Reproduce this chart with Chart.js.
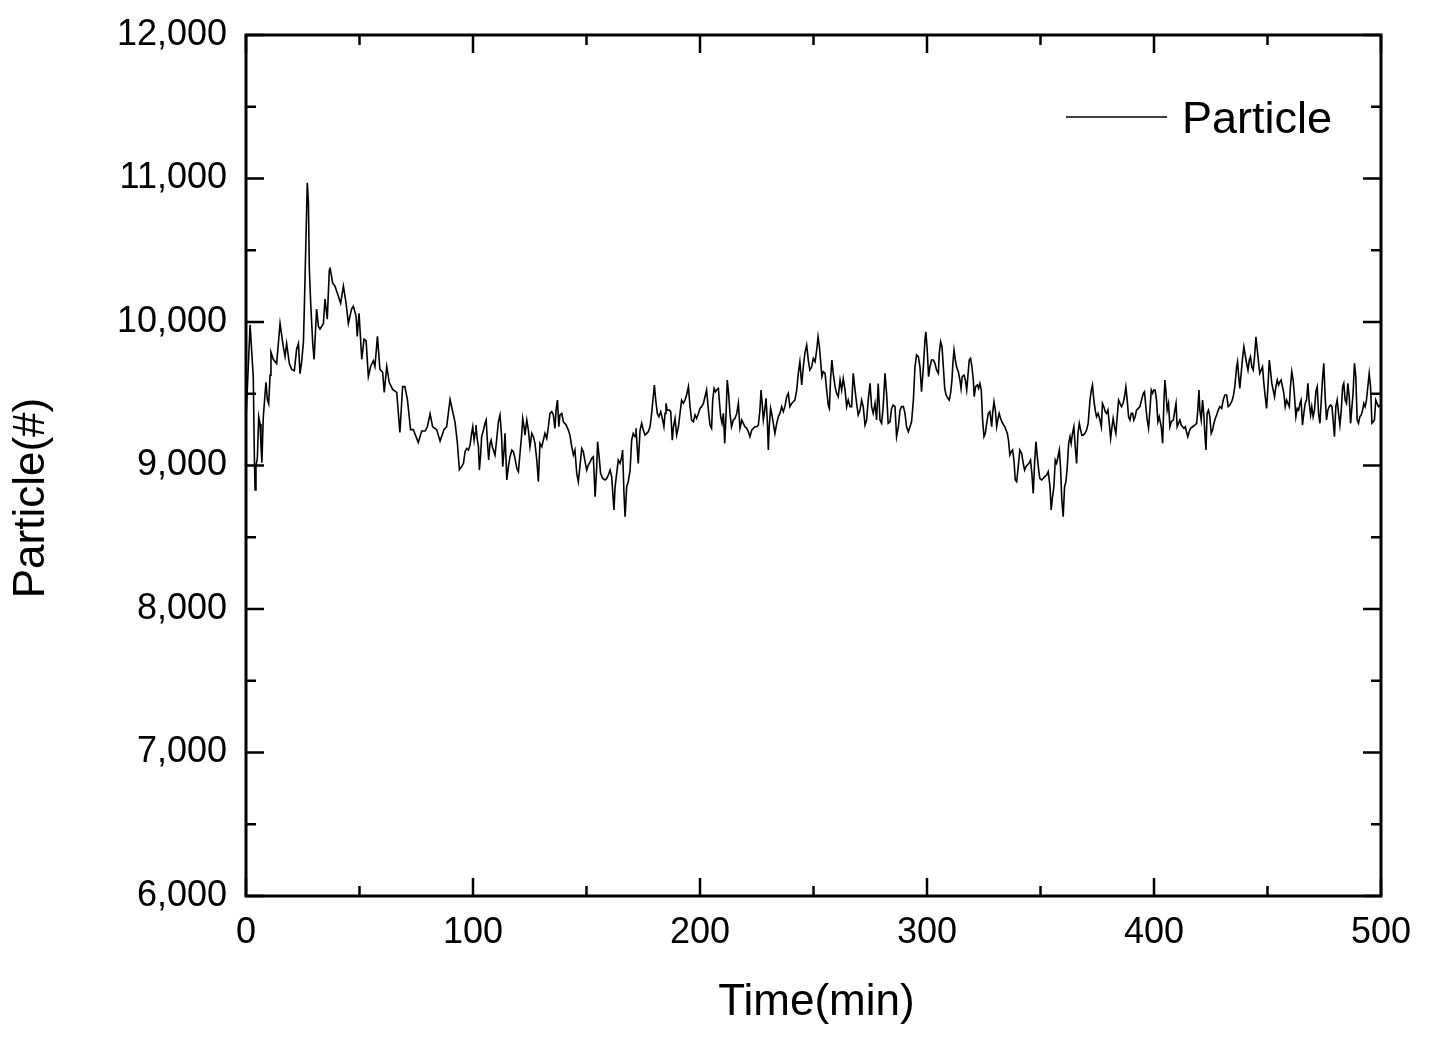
<!DOCTYPE html>
<html>
<head>
<meta charset="utf-8">
<script src="https://cdn.jsdelivr.net/npm/chart.js@4/dist/chart.umd.min.js"></script>
<style>
  html, body { margin: 0; padding: 0; background: #fff; }
  canvas { display: block; }
</style>
</head>
<body>
<canvas id="chart" width="1439" height="1040"></canvas>
<script>
// Particle count over time (min, #)
const timeMin = [
  0, 1.8, 2.5, 3.2, 3.7, 4.0, 4.4, 5.0, 5.6, 6.2,
  6.6, 7.0, 7.6, 8.1, 8.8, 9.4, 10.0, 10.6, 11.0, 12.0,
  13.5, 15.0, 16.4, 17.2, 17.9, 19.1, 20.1, 21.3, 22.3, 23.1,
  23.8, 24.5, 25.3, 25.6, 26.0, 27.0, 27.5, 27.9, 28.5, 29.4,
  30.0, 31.1, 31.9, 32.6, 34.1, 34.8, 35.8, 36.7, 37.0, 38.2,
  39.2, 40.7, 41.7, 42.9, 44.1, 45.1, 46.5, 47.3, 48.5, 49.0,
  49.8, 51.0, 52.0, 52.9, 53.9, 54.9, 56.1, 56.8, 57.9, 59.0,
  60.2, 60.9, 62.0, 63.1, 64.6, 66.4, 67.8, 69.0, 70.0, 71.1,
  72.5, 73.7, 75.9, 77.4, 78.9, 79.9, 81.1, 82.2, 84.0, 85.5,
  87.2, 88.4, 89.9, 92.1, 93.1, 94.0, 95.0, 95.8, 96.5, 97.2,
  98.0, 98.7, 99.4, 99.9, 100.5, 100.9, 101.3, 101.9, 102.4, 102.8,
  103.4, 103.8, 104.6, 105.3, 105.8, 106.3, 106.9, 107.5, 108.0, 108.5,
  109.0, 109.7, 110.4, 111.2, 111.9, 112.6, 113.1, 113.7, 114.1, 114.9,
  115.6, 116.3, 117.1, 117.8, 118.5, 119.3, 120.0, 120.7, 121.5, 121.9,
  122.5, 122.9, 123.7, 124.4, 125.1, 125.9, 126.6, 127.3, 128.1, 128.8,
  129.5, 130.3, 131.0, 131.7, 132.5, 133.2, 133.9, 134.7, 135.4, 136.1,
  136.6, 137.2, 137.8, 138.3, 139.1, 139.8, 141.0, 142.0, 142.7, 143.5,
  144.2, 144.9, 145.7, 146.4, 147.1, 147.9, 148.6, 149.4, 150.1, 150.8,
  151.6, 152.3, 153.0, 153.8, 154.5, 154.9, 155.7, 156.2, 157.1, 158.2,
  158.9, 159.6, 160.4, 161.1, 161.8, 162.1, 162.6, 163.3, 164.0, 164.8,
  165.5, 165.9, 166.5, 167.0, 167.7, 168.4, 169.2, 169.9, 170.6, 171.4,
  171.8, 172.4, 172.8, 173.6, 174.3, 175.0, 175.8, 176.5, 177.2, 178.0,
  178.7, 179.4, 179.9, 180.5, 181.2, 181.9, 182.7, 183.4, 184.1, 184.6,
  185.0, 185.6, 186.5, 187.1, 187.8, 188.3, 189.0, 189.7, 190.5, 191.2,
  191.9, 192.7, 193.4, 194.1, 194.9, 195.6, 196.3, 197.1, 197.8, 198.5,
  199.3, 200.0, 200.7, 201.5, 202.2, 202.9, 203.7, 204.4, 205.1, 205.6,
  206.2, 206.8, 207.3, 208.1, 208.5, 209.1, 209.7, 210.3, 210.9, 211.5,
  212.0, 212.6, 213.2, 213.9, 214.7, 215.4, 216.2, 216.9, 217.6, 218.4,
  219.1, 219.8, 220.6, 221.3, 222.0, 222.8, 223.5, 224.2, 225.0, 225.7,
  226.4, 226.9, 227.5, 227.9, 228.5, 229.1, 229.7, 230.1, 230.5, 231.1,
  231.7, 232.3, 233.0, 233.8, 234.5, 235.2, 236.0, 236.7, 237.4, 238.2,
  238.9, 239.6, 240.4, 241.1, 241.8, 242.6, 243.3, 244.0, 244.8, 245.5,
  246.2, 247.0, 247.7, 248.4, 249.2, 249.9, 250.7, 251.4, 252.0, 252.6,
  253.1, 253.7, 254.3, 255.1, 255.8, 256.5, 257.0, 257.5, 258.1, 258.7,
  259.5, 260.2, 260.9, 261.7, 262.4, 263.1, 263.9, 264.6, 265.3, 266.1,
  266.8, 267.5, 268.3, 269.0, 269.7, 270.5, 271.2, 271.9, 272.7, 273.4,
  274.1, 274.9, 275.6, 276.3, 277.1, 277.8, 278.5, 279.3, 280.0, 280.7,
  281.5, 282.2, 282.9, 283.7, 284.4, 285.1, 285.9, 286.6, 287.4, 288.1,
  288.8, 289.6, 290.3, 291.0, 291.8, 292.5, 293.2, 294.0, 294.7, 295.4,
  296.2, 296.9, 297.6, 298.4, 299.1, 299.5, 300.1, 300.7, 301.3, 302.0,
  302.8, 303.5, 304.2, 305.0, 305.4, 306.0, 306.6, 307.2, 307.8, 308.4,
  309.2, 309.8, 310.4, 311.0, 311.4, 311.9, 312.5, 313.0, 313.8, 314.5,
  315.0, 315.5, 316.3, 316.9, 317.5, 318.0, 318.6, 319.2, 319.8, 320.4,
  320.8, 321.4, 322.2, 322.7, 323.3, 323.9, 324.5, 325.1, 325.7, 326.3,
  327.0, 327.7, 328.5, 328.9, 329.5, 330.1, 330.7, 331.3, 331.8, 332.4,
  333.3, 334.3, 335.4, 335.9, 336.5, 337.1, 337.7, 338.3, 338.9, 339.5,
  340.2, 340.9, 341.7, 342.4, 343.0, 343.6, 344.2, 344.9, 345.6, 346.2,
  346.8, 347.4, 348.0, 348.6, 349.2, 349.7, 350.5, 351.2, 351.9, 352.7,
  353.4, 354.2, 354.7, 355.3, 355.9, 356.5, 357.1, 357.7, 358.3, 358.8,
  359.4, 360.0, 360.6, 361.2, 361.8, 362.4, 363.0, 363.5, 364.1, 364.7,
  365.3, 365.9, 366.5, 367.1, 367.7, 368.2, 368.8, 369.6, 370.3, 371.0,
  371.8, 372.4, 372.9, 373.5, 374.1, 374.7, 375.4, 376.2, 376.8, 377.3,
  377.9, 378.5, 379.1, 379.7, 380.3, 380.9, 381.5, 382.0, 382.6, 383.2,
  383.8, 384.4, 385.0, 385.7, 386.4, 387.0, 387.6, 388.2, 388.8, 389.4,
  390.0, 390.6, 391.1, 391.7, 392.3, 393.1, 393.8, 394.5, 395.3, 395.8,
  396.4, 397.0, 397.6, 398.2, 398.8, 399.4, 399.9, 400.5, 401.1, 401.7,
  402.3, 402.6, 403.2, 403.8, 404.4, 404.8, 405.2, 405.8, 406.4, 407.0,
  407.6, 408.5, 409.2, 409.7, 410.2, 410.8, 411.4, 412.0, 412.6, 413.2,
  413.8, 414.3, 414.9, 415.5, 416.1, 417.0, 418.0, 418.8, 419.3, 419.8,
  420.2, 420.8, 421.4, 422.0, 422.4, 422.9, 423.4, 424.0, 424.6, 425.2,
  425.8, 426.4, 427.0, 427.6, 428.3, 429.0, 429.8, 430.5, 431.2, 432.0,
  432.7, 433.4, 434.2, 434.9, 435.6, 436.4, 436.8, 437.2, 437.8, 438.4,
  439.0, 439.6, 440.2, 440.8, 441.4, 442.0, 442.5, 443.1, 443.7, 444.3,
  444.9, 445.5, 446.1, 446.6, 447.2, 447.8, 448.4, 449.0, 449.6, 450.2,
  450.8, 451.3, 451.9, 452.5, 453.1, 453.7, 454.3, 454.9, 455.5, 456.0,
  456.6, 457.2, 457.8, 458.4, 459.0, 459.6, 460.1, 460.7, 461.3, 461.9,
  462.5, 463.1, 463.7, 464.3, 464.8, 465.4, 466.0, 466.6, 467.2, 467.8,
  468.4, 469.0, 469.5, 470.1, 470.7, 471.3, 471.9, 472.5, 473.1, 473.7,
  474.2, 474.8, 475.4, 476.0, 476.6, 477.2, 477.8, 478.4, 478.9, 479.5,
  480.1, 480.7, 481.3, 481.9, 482.5, 483.1, 483.6, 484.2, 484.8, 485.4,
  486.0, 486.6, 487.2, 487.7, 488.3, 488.9, 489.5, 490.1, 490.7, 491.3,
  491.9, 492.4, 493.0, 493.6, 494.2, 494.8, 495.4, 496.0, 496.6, 497.1,
  497.7, 498.3, 498.9, 499.6
];
const particleCount = [
  9320, 9980, 9800, 9620, 9050, 8830, 9000, 9050, 9340, 9290,
  9140, 9020, 9330, 9440, 9580, 9460, 9430, 9630, 9790, 9740,
  9710, 9990, 9830, 9760, 9850, 9710, 9670, 9660, 9810, 9850,
  9640, 9720, 9860, 10040, 10300, 10970, 10830, 10370, 10130, 9850,
  9740, 10090, 9970, 9950, 9990, 10160, 10020, 10360, 10380, 10270,
  10250, 10180, 10130, 10250, 10130, 9990, 10090, 10110, 10040, 9900,
  10060, 9740, 9880, 9870, 9620, 9690, 9730, 9690, 9900, 9670,
  9650, 9510, 9690, 9580, 9530, 9510, 9230, 9550, 9550, 9460,
  9250, 9250, 9160, 9240, 9240, 9270, 9360, 9270, 9250, 9170,
  9250, 9270, 9460, 9300, 9160, 8970, 8992, 9015, 9096, 9119,
  9108, 9143, 9224, 9270, 9177, 9224, 9282, 9177, 9131, 8968,
  9084, 9201, 9247, 9294, 9317, 9177, 9038, 9154, 9177, 9131,
  9108, 9073, 9177, 9305, 9352, 9201, 8992, 9108, 9224, 8899,
  8992, 9061, 9108, 9096, 9050, 8980, 8957, 9084, 9224, 9328,
  9270, 9212, 9317, 9247, 9131, 9224, 9201, 9154, 9038, 8887,
  9154, 9131, 9177, 9224, 9189, 9270, 9363, 9375, 9352, 9259,
  9386, 9456, 9270, 9352, 9363, 9305, 9282, 9247, 9212, 9131,
  9073, 9108, 8945, 8887, 8992, 9119, 9096, 9026, 8968, 9003,
  9026, 9050, 9061, 8782, 8992, 9166, 9038, 8945, 8910, 8899,
  8910, 8933, 8968, 8922, 8759, 8690, 8852, 8945, 9038, 9015,
  9061, 9108, 8806, 8643, 8852, 8887, 8968, 9177, 9224, 9201,
  9259, 9108, 9015, 9247, 9294, 9247, 9212, 9224, 9235, 9270,
  9363, 9479, 9561, 9456, 9363, 9340, 9375, 9328, 9270, 9363,
  9433, 9386, 9386, 9375, 9177, 9270, 9328, 9212, 9270, 9363,
  9456, 9433, 9456, 9491, 9549, 9410, 9317, 9305, 9352, 9328,
  9363, 9398, 9410, 9433, 9479, 9526, 9386, 9282, 9259, 9456,
  9537, 9514, 9526, 9537, 9456, 9340, 9294, 9363, 9154, 9363,
  9596, 9503, 9363, 9270, 9317, 9328, 9363, 9433, 9259, 9317,
  9294, 9270, 9259, 9235, 9201, 9247, 9259, 9270, 9270, 9282,
  9386, 9526, 9410, 9317, 9386, 9468, 9294, 9108, 9270, 9398,
  9352, 9294, 9224, 9294, 9340, 9363, 9410, 9375, 9410, 9479,
  9503, 9410, 9433, 9444, 9456, 9526, 9642, 9723, 9561, 9688,
  9781, 9839, 9735, 9665, 9688, 9747, 9723, 9805, 9897, 9828,
  9735, 9619, 9654, 9642, 9526, 9421, 9398, 9596, 9735, 9642,
  9549, 9503, 9479, 9596, 9526, 9607, 9526, 9410, 9456, 9410,
  9410, 9642, 9526, 9433, 9352, 9386, 9456, 9410, 9282, 9317,
  9456, 9572, 9410, 9363, 9433, 9317, 9572, 9317, 9294, 9410,
  9642, 9503, 9294, 9305, 9398, 9421, 9410, 9201, 9270, 9386,
  9410, 9410, 9363, 9270, 9235, 9270, 9305, 9456, 9688, 9770,
  9758, 9688, 9514, 9688, 9874, 9932, 9805, 9619, 9688, 9735,
  9735, 9712, 9665, 9642, 9781, 9863, 9828, 9688, 9537, 9491,
  9468, 9456, 9503, 9596, 9712, 9805, 9735, 9688, 9654, 9596,
  9537, 9619, 9630, 9596, 9526, 9619, 9735, 9747, 9688, 9596,
  9479, 9549, 9561, 9537, 9572, 9526, 9317, 9201, 9224, 9294,
  9363, 9375, 9270, 9363, 9444, 9386, 9270, 9328, 9363, 9328,
  9294, 9270, 9224, 9177, 9073, 9096, 9108, 9038, 8899, 8887,
  8992, 9108, 9084, 9015, 8968, 8992, 9003, 9015, 9038, 8945,
  8806, 9015, 9166, 9061, 8968, 8910, 8899, 8910, 8922, 8933,
  8957, 8852, 8690, 8782, 8852, 9038, 9015, 9061, 9108, 8992,
  8759, 8643, 8852, 8887, 8992, 9154, 9201, 9154, 9224, 9270,
  9131, 9015, 9224, 9294, 9247, 9212, 9212, 9224, 9247, 9294,
  9456, 9526, 9561, 9456, 9386, 9340, 9363, 9317, 9270, 9433,
  9410, 9375, 9363, 9386, 9294, 9189, 9270, 9328, 9270, 9224,
  9340, 9456, 9433, 9410, 9433, 9479, 9549, 9456, 9340, 9317,
  9363, 9363, 9317, 9340, 9386, 9398, 9410, 9456, 9503, 9514,
  9410, 9317, 9259, 9386, 9526, 9503, 9526, 9526, 9456, 9305,
  9340, 9340, 9270, 9154, 9456, 9596, 9526, 9386, 9433, 9270,
  9305, 9317, 9386, 9433, 9270, 9294, 9317, 9282, 9270, 9259,
  9270, 9235, 9201, 9235, 9259, 9270, 9282, 9294, 9386, 9526,
  9386, 9317, 9456, 9340, 9224, 9108, 9363, 9386, 9340, 9224,
  9247, 9294, 9328, 9352, 9386, 9410, 9398, 9456, 9491, 9491,
  9410, 9421, 9444, 9479, 9549, 9688, 9723, 9642, 9537, 9642,
  9747, 9828, 9770, 9712, 9665, 9735, 9758, 9688, 9665, 9758,
  9897, 9805, 9712, 9642, 9665, 9688, 9572, 9479, 9398, 9549,
  9735, 9665, 9572, 9526, 9479, 9549, 9596, 9561, 9584, 9596,
  9549, 9503, 9410, 9456, 9433, 9410, 9549, 9654, 9596, 9479,
  9340, 9398, 9386, 9433, 9456, 9282, 9363, 9433, 9456, 9572,
  9433, 9352, 9410, 9340, 9386, 9514, 9549, 9363, 9294, 9456,
  9596, 9712, 9479, 9317, 9386, 9410, 9421, 9410, 9317, 9201,
  9410, 9456, 9363, 9282, 9386, 9549, 9572, 9456, 9433, 9572,
  9479, 9294, 9410, 9503, 9712, 9619, 9317, 9294, 9340, 9352,
  9386, 9433, 9410, 9456, 9549, 9642, 9549, 9294, 9305, 9317,
  9456, 9433, 9410, 9420
];

const xRange = [0, 500];        // Time(min)
const yRange = [6000, 12000];   // Particle(#)
const xMajorStep = 100, xMinorStep = 50;
const yMajorStep = 1000, yMinorStep = 500;

const FONT = "'Liberation Sans', Arial, sans-serif";

// marco cerrado con ticks hacia adentro en los cuatro lados, títulos de eje y leyenda
const marcoOrigin = {
  id: 'marcoOrigin',
  afterDraw(chart) {
    const { ctx, chartArea: a, scales: { x, y } } = chart;
    ctx.save();
    ctx.strokeStyle = '#000';
    ctx.lineWidth = 3;
    ctx.strokeRect(a.left, a.top, a.right - a.left, a.bottom - a.top);

    ctx.lineWidth = 2.5;
    ctx.beginPath();
    for (let v = xRange[0]; v <= xRange[1]; v += xMinorStep) {
      const px = x.getPixelForValue(v);
      const len = v % xMajorStep === 0 ? 18 : 10;
      ctx.moveTo(px, a.bottom); ctx.lineTo(px, a.bottom - len);
      ctx.moveTo(px, a.top); ctx.lineTo(px, a.top + len);
    }
    for (let v = yRange[0]; v <= yRange[1]; v += yMinorStep) {
      const py = y.getPixelForValue(v);
      const len = v % yMajorStep === 0 ? 18 : 10;
      ctx.moveTo(a.left, py); ctx.lineTo(a.left + len, py);
      ctx.moveTo(a.right, py); ctx.lineTo(a.right - len, py);
    }
    ctx.stroke();

    ctx.fillStyle = '#000';
    ctx.font = `44px ${FONT}`;
    ctx.textAlign = 'center';
    ctx.textBaseline = 'alphabetic';
    ctx.fillText('Time(min)', (a.left + a.right) / 2 + 3, 1015);

    ctx.save();
    ctx.translate(44, 498);
    ctx.rotate(-Math.PI / 2);
    ctx.fillText('Particle(#)', 0, 0);
    ctx.restore();

    // leyenda
    ctx.lineWidth = 1.5;
    ctx.beginPath();
    ctx.moveTo(1066, 117); ctx.lineTo(1167, 117);
    ctx.stroke();
    ctx.font = `45px ${FONT}`;
    ctx.textAlign = 'left';
    ctx.fillText(chart.data.datasets[0].label, 1182, 133);
    ctx.restore();
  }
};

new Chart(document.getElementById('chart'), {
  type: 'line',
  data: {
    datasets: [{
      label: 'Particle',
      data: timeMin.map((t, i) => ({ x: t, y: particleCount[i] })),
      borderColor: '#000',
      borderWidth: 1.6,
      pointRadius: 0,
      tension: 0,
      fill: false,
    }],
  },
  options: {
    responsive: false,
    animation: false,
    devicePixelRatio: 1,
    layout: { padding: { top: 35, right: 58, bottom: 0, left: 0 } },
    plugins: { legend: { display: false }, tooltip: { enabled: false } },
    scales: {
      x: {
        type: 'linear', min: xRange[0], max: xRange[1],
        grid: { display: false }, border: { display: false },
        ticks: { stepSize: xMajorStep, color: '#000', maxRotation: 0, padding: 7, font: { family: FONT, size: 36 } },
        afterFit: (s) => { s.height = 144; },
      },
      y: {
        type: 'linear', min: yRange[0], max: yRange[1],
        grid: { display: false }, border: { display: false },
        ticks: { stepSize: yMajorStep, color: '#000', padding: 11, font: { family: FONT, size: 36 }, callback: (v) => v.toLocaleString('en-US') },
        afterFit: (s) => { s.width = 246; },
      },
    },
  },
  plugins: [marcoOrigin],
});
</script>
</body>
</html>
